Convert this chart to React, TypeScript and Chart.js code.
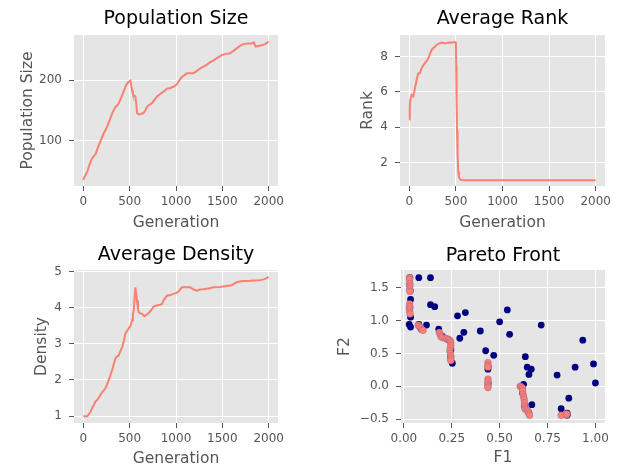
import React, { useEffect, useRef } from 'react';
import { Chart, registerables } from 'chart.js';

Chart.register(...registerables);

// ---------- data ----------
const popGen = [0, 10, 25, 45, 61, 80, 97, 115, 132, 150, 168, 195, 222, 240, 258, 285, 311, 330, 347, 365, 383, 400, 419, 437, 454, 472, 490, 500, 508, 515, 526, 535, 544, 553, 562, 572, 580, 595, 615, 635, 651, 670, 687, 710, 741, 770, 795, 830, 866, 902, 940, 973, 1009, 1035, 1063, 1090, 1116, 1150, 1188, 1225, 1259, 1295, 1331, 1365, 1402, 1450, 1492, 1540, 1581, 1620, 1653, 1690, 1725, 1770, 1814, 1839, 1850, 1860, 1890, 1921, 1960, 2000];
const popSize = [36, 40, 44, 50, 58, 66, 72, 75, 78, 86, 93, 103, 113, 118, 124, 134, 145, 151, 156, 158, 162, 168, 175, 182, 189, 194, 197, 198, 199, 193, 184, 178, 175, 174, 173, 160, 146, 144, 144, 145, 146, 150, 156, 159, 162, 168, 173, 177, 181, 186, 187, 189, 193, 199, 205, 208, 211, 211, 211, 215, 219, 222, 225, 229, 232, 237, 241, 243, 244, 248, 252, 256, 259, 260, 260, 262, 258, 255, 256, 257, 259, 263];

const rankGen = [0, 5, 11, 25, 43, 61, 79, 96, 114, 132, 150, 168, 186, 204, 222, 239, 257, 275, 293, 311, 330, 346, 364, 382, 400, 418, 436, 454, 470, 482, 495, 500, 503, 507, 512, 518, 525, 533, 543, 552, 561, 600, 800, 1000, 1200, 1400, 1600, 1800, 2000];
const avgRank = [4.44, 5.2, 5.56, 5.84, 5.75, 6.22, 6.69, 7.06, 7.06, 7.34, 7.5, 7.63, 7.75, 7.9, 8.15, 8.37, 8.48, 8.56, 8.66, 8.72, 8.75, 8.79, 8.77, 8.75, 8.76, 8.79, 8.78, 8.8, 8.81, 8.82, 8.8, 8.75, 7.5, 5.5, 3.8, 2.5, 1.5, 1.2, 1.06, 1.03, 1.02, 1.0, 1.0, 1.0, 1.0, 1.0, 1.0, 1.0, 1.0];

const densGen = [0, 20, 43, 60, 79, 100, 114, 130, 150, 170, 186, 210, 240, 260, 275, 295, 311, 330, 347, 365, 383, 400, 419, 440, 454, 470, 490, 510, 526, 535, 544, 552, 562, 570, 580, 590, 598, 615, 633, 658, 680, 705, 730, 759, 790, 830, 850, 866, 885, 902, 940, 973, 1000, 1030, 1063, 1100, 1152, 1190, 1224, 1260, 1295, 1350, 1402, 1470, 1546, 1600, 1653, 1700, 1796, 1850, 1903, 1950, 2000];
const avgDensity = [1.0, 1.0, 1.0, 1.05, 1.12, 1.25, 1.3, 1.4, 1.45, 1.52, 1.59, 1.68, 1.77, 1.9, 2.0, 2.15, 2.27, 2.45, 2.6, 2.65, 2.68, 2.8, 2.91, 3.1, 3.28, 3.35, 3.42, 3.5, 3.65, 3.8, 3.92, 4.2, 4.56, 4.4, 4.2, 3.95, 3.87, 3.84, 3.83, 3.76, 3.8, 3.85, 3.92, 4.03, 4.06, 4.08, 4.1, 4.2, 4.27, 4.33, 4.35, 4.38, 4.4, 4.45, 4.56, 4.56, 4.56, 4.5, 4.47, 4.5, 4.51, 4.53, 4.56, 4.57, 4.6, 4.62, 4.7, 4.73, 4.74, 4.75, 4.76, 4.78, 4.85];

const popF1 = [0.031, 0.078, 0.139, 0.139, 0.161, 0.035, 0.035, 0.028, 0.035, 0.078, 0.118, 0.28, 0.321, 0.313, 0.292, 0.182, 0.399, 0.5, 0.54, 0.552, 0.717, 0.427, 0.469, 0.439, 0.634, 0.644, 0.665, 0.653, 0.8, 0.894, 0.934, 0.99, 1.0, 0.861, 0.821, 0.852, 0.852, 0.668, 0.625, 0.253, 0.245, 0.031, 0.033, 0.031, 0.245, 0.245, 0.44, 0.44, 0.62, 0.63, 0.652, 0.09, 0.2, 0.23];
const popF2 = [1.65, 1.65, 1.65, 1.24, 1.21, 1.32, 1.05, 0.94, 0.9, 0.94, 0.93, 1.07, 1.12, 0.82, 0.73, 0.87, 0.84, 0.98, 1.16, 0.79, 0.93, 0.54, 0.47, 0.26, 0.45, 0.29, 0.26, 0.18, 0.17, 0.29, 0.7, 0.34, 0.05, -0.18, -0.34, -0.44, -0.41, -0.28, 0.03, 0.35, 0.57, 1.55, 1.45, 1.2, 0.55, 0.45, 0.3, 0.05, -0.1, -0.3, -0.4, 0.87, 0.76, 0.71];

const frontF1 = [0.03, 0.03, 0.03, 0.031, 0.031, 0.032, 0.03, 0.031, 0.03, 0.031, 0.032, 0.075, 0.08, 0.088, 0.095, 0.1, 0.185, 0.19, 0.193, 0.2, 0.215, 0.225, 0.235, 0.242, 0.245, 0.245, 0.243, 0.24, 0.243, 0.245, 0.245, 0.245, 0.439, 0.439, 0.439, 0.439, 0.439, 0.439, 0.439, 0.439, 0.607, 0.613, 0.62, 0.62, 0.622, 0.625, 0.628, 0.63, 0.63, 0.632, 0.64, 0.648, 0.652, 0.656, 0.821, 0.848, 0.85];
const frontF2 = [1.65, 1.62, 1.56, 1.52, 1.48, 1.44, 1.25, 1.21, 1.17, 1.13, 1.1, 0.93, 0.91, 0.89, 0.86, 0.85, 0.82, 0.79, 0.76, 0.74, 0.73, 0.72, 0.71, 0.69, 0.66, 0.62, 0.58, 0.54, 0.5, 0.46, 0.42, 0.39, 0.36, 0.32, 0.29, 0.11, 0.07, 0.03, 0.0, -0.02, 0.0, -0.01, -0.03, -0.07, -0.12, -0.16, -0.2, -0.25, -0.3, -0.34, -0.36, -0.38, -0.41, -0.44, -0.44, -0.44, -0.42];

const genTicks = [0, 500, 1000, 1500, 2000];
const popTicks = [100, 200];
const rankTicks = [2, 4, 6, 8];
const densTicks = [1, 2, 3, 4, 5];
const f1Ticks = [0, 0.25, 0.5, 0.75, 1.0];
const f2Ticks = [-0.5, 0, 0.5, 1.0, 1.5];

// ---------- styling ----------
const FONT = "'DejaVu Sans', sans-serif";
const LINE = '#FA8072';
const NAVY = '#000080';
const TXT = '#555555';
const W = 311;
const H = 234;

const bgPlugin = {
  id: 'plotBg',
  beforeDraw(chart: any) {
    const { ctx, chartArea: a } = chart;
    ctx.save();
    ctx.fillStyle = '#E5E5E5';
    ctx.fillRect(a.left, a.top, a.right - a.left, a.bottom - a.top);
    ctx.restore();
  },
};

const zip = (xs: number[], ys: number[]) => {
  const n = Math.min(xs.length, ys.length);
  const out: { x: number; y: number }[] = [];
  for (let i = 0; i < n; i++) out.push({ x: xs[i], y: ys[i] });
  return out;
};

const fmtInt = (v: number) => String(Math.round(v));
const fmt2 = (v: number) => v.toFixed(2).replace('-', '\u2212');
const fmt1 = (v: number) => v.toFixed(1).replace('-', '\u2212');

type Panel = {
  left: number; top: number;
  cl: number; ct: number; cr: number; cb: number;
  title: string; titleMid: number;
  xTitle: string; xTitleY: number;
  yTitle: string; yTitleX: number;
  xMin: number; xMax: number; xTicks: number[]; xFmt: (v: number) => string;
  yMin: number; yMax: number; yTicks: number[]; yFmt: (v: number) => string;
  kind: 'line' | 'scatter';
  datasets: any[];
};

const panels: Panel[] = [
  {
    left: 0, top: 0, cl: 74, ct: 35, cr: 278, cb: 186,
    title: 'Population Size', titleMid: 19,
    xTitle: 'Generation', xTitleY: 222.5,
    yTitle: 'Population Size', yTitleX: 28,
    xMin: -100, xMax: 2100, xTicks: genTicks, xFmt: fmtInt,
    yMin: 26, yMax: 274, yTicks: popTicks, yFmt: fmtInt,
    kind: 'line',
    datasets: [{ data: zip(popGen, popSize), borderColor: LINE, borderWidth: 2, pointRadius: 0, tension: 0 }],
  },
  {
    left: 311, top: 0, cl: 400, ct: 35, cr: 605, cb: 186,
    title: 'Average Rank', titleMid: 19,
    xTitle: 'Generation', xTitleY: 222.5,
    yTitle: 'Rank', yTitleX: 367.5,
    xMin: -100, xMax: 2100, xTicks: genTicks, xFmt: fmtInt,
    yMin: 0.68, yMax: 9.22, yTicks: rankTicks, yFmt: fmtInt,
    kind: 'line',
    datasets: [{ data: zip(rankGen, avgRank), borderColor: LINE, borderWidth: 2, pointRadius: 0, tension: 0 }],
  },
  {
    left: 0, top: 234, cl: 74, ct: 270, cr: 278, cb: 423,
    title: 'Average Density', titleMid: 255.5,
    xTitle: 'Generation', xTitleY: 459,
    yTitle: 'Density', yTitleX: 41.5,
    xMin: -100, xMax: 2100, xTicks: genTicks, xFmt: fmtInt,
    yMin: 0.81, yMax: 5.04, yTicks: densTicks, yFmt: fmtInt,
    kind: 'line',
    datasets: [{ data: zip(densGen, avgDensity), borderColor: LINE, borderWidth: 2, pointRadius: 0, tension: 0 }],
  },
  {
    left: 311, top: 234, cl: 401, ct: 270, cr: 605, cb: 423,
    title: 'Pareto Front', titleMid: 256,
    xTitle: 'F1', xTitleY: 457.5,
    yTitle: 'F2', yTitleX: 344.5,
    xMin: -0.015, xMax: 1.05, xTicks: f1Ticks, xFmt: fmt2,
    yMin: -0.558, yMax: 1.767, yTicks: f2Ticks, yFmt: fmt1,
    kind: 'scatter',
    datasets: [
      { data: zip(frontF1, frontF2), backgroundColor: LINE, borderColor: 'rgba(120,80,160,0.45)', borderWidth: 0.7, pointRadius: 3.4, order: 0 },
      { data: zip(popF1, popF2), backgroundColor: NAVY, borderColor: NAVY, borderWidth: 0, pointRadius: 3.4, order: 1 },
    ],
  },
];

function PanelChart({ p }: { p: Panel }) {
  const ref = useRef<HTMLCanvasElement>(null);
  useEffect(() => {
    if (!ref.current) return;
    const titleLH = 19 * 1.2;
    const axisLH = 15.5 * 1.2;
    const tPadTop = p.titleMid - p.top - titleLH / 2;
    const tPadBottom = p.ct - p.top - tPadTop - titleLH;
    const yW = p.cl - p.left;
    const xH = p.top + H - p.cb;
    const rightPad = p.left + W - p.cr;
    const yTitlePad = p.yTitleX - p.left - axisLH / 2;
    const xTitlePad = p.top + H - p.xTitleY - axisLH / 2;

    const chart = new Chart(ref.current, {
      type: p.kind,
      data: { datasets: p.datasets },
      plugins: [bgPlugin],
      options: {
        animation: false,
        responsive: false,
        devicePixelRatio: 1,
        layout: { padding: { left: 0, top: 0, right: rightPad, bottom: 0 } },
        plugins: {
          legend: { display: false },
          tooltip: { enabled: false },
          title: {
            display: true,
            fullSize: false,
            text: p.title,
            color: '#000000',
            font: { family: FONT, size: 19, weight: 'normal', lineHeight: 1.2 },
            padding: { top: tPadTop, bottom: tPadBottom },
          },
        },
        scales: {
          x: {
            type: 'linear',
            min: p.xMin,
            max: p.xMax,
            afterBuildTicks: (s: any) => { s.ticks = p.xTicks.map((v) => ({ value: v })); },
            afterFit: (s: any) => { s.height = xH; },
            ticks: {
              color: TXT,
              font: { family: FONT, size: 12 },
              padding: 4,
              autoSkip: false,
              maxRotation: 0,
              callback: (v: any) => p.xFmt(Number(v)),
            },
            grid: { color: '#FFFFFF', lineWidth: 1, tickColor: TXT, tickLength: 5, tickWidth: 1 },
            border: { display: false },
            title: {
              display: true,
              text: p.xTitle,
              color: TXT,
              font: { family: FONT, size: 15.5, lineHeight: 1.2 },
              padding: { top: 0, bottom: xTitlePad },
            },
          },
          y: {
            type: 'linear',
            min: p.yMin,
            max: p.yMax,
            afterBuildTicks: (s: any) => { s.ticks = p.yTicks.map((v) => ({ value: v })); },
            afterFit: (s: any) => { s.width = yW; },
            ticks: {
              color: TXT,
              font: { family: FONT, size: 12 },
              padding: 7,
              autoSkip: false,
              callback: (v: any) => p.yFmt(Number(v)),
            },
            grid: { color: '#FFFFFF', lineWidth: 1, tickColor: TXT, tickLength: 5, tickWidth: 1 },
            border: { display: false },
            title: {
              display: true,
              text: p.yTitle,
              color: TXT,
              font: { family: FONT, size: 15.5, lineHeight: 1.2 },
              padding: { top: yTitlePad, bottom: 0 },
            },
          },
        },
      } as any,
    } as any);
    return () => chart.destroy();
  }, [p]);
  return (
    <canvas
      ref={ref}
      width={W}
      height={H}
      style={{ position: 'absolute', left: p.left, top: p.top, width: W, height: H }}
    />
  );
}

export default function App() {
  return (
    <div style={{ position: 'fixed', left: 0, top: 0, width: 622, height: 468, background: '#FFFFFF' }}>
      {panels.map((p, i) => (
        <PanelChart key={i} p={p} />
      ))}
    </div>
  );
}
